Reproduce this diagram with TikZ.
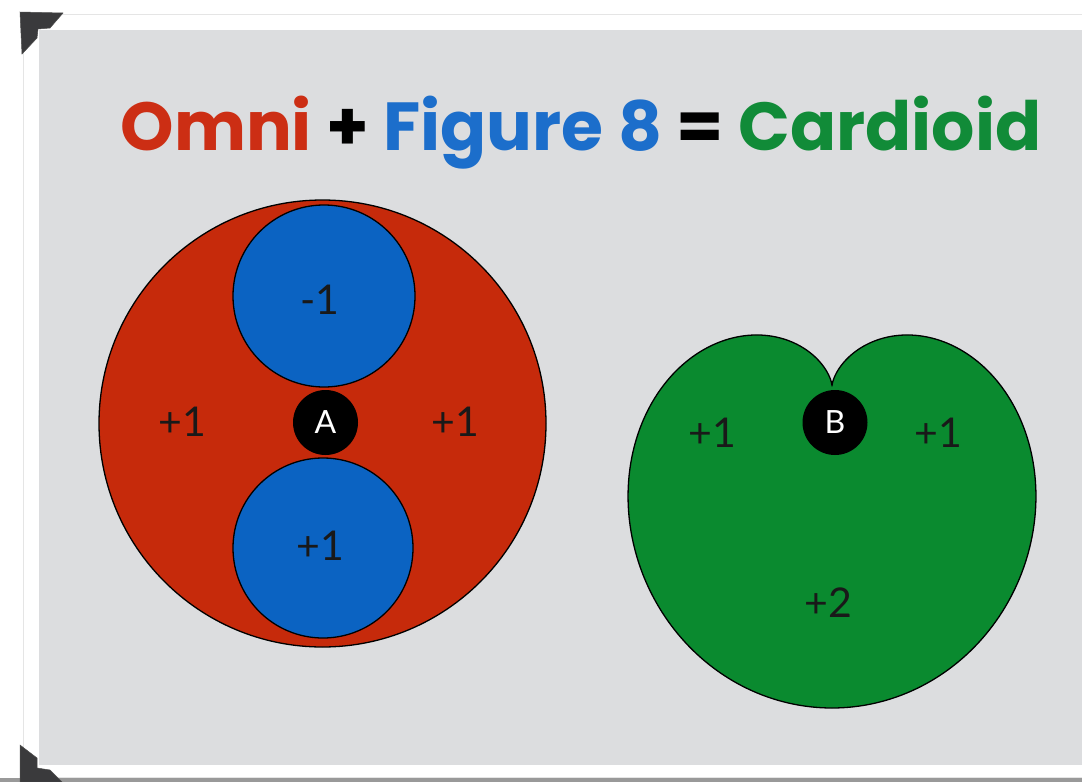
\documentclass[tikz,border=0pt]{standalone}
\usepackage{fontspec}
\setmainfont{Lato}
\newfontfamily\titlefont{Poppins}
\definecolor{panel}{HTML}{DCDDDF}
\definecolor{omnired}{HTML}{C62A0B}
\definecolor{figblue}{HTML}{0B63C2}
\definecolor{cardgreen}{HTML}{0A8A2F}
\definecolor{titlered}{HTML}{CC2E14}
\definecolor{titleblue}{HTML}{1C6ECB}
\definecolor{titlegreen}{HTML}{118B38}
\definecolor{cornergray}{HTML}{3A3A3C}
\tikzset{
  outline/.style={draw=black, line width=1.3pt},
  lbl/.style={font=\fontsize{41}{41}\selectfont, text=black!90, inner sep=0pt},
  pointdot/.style={circle, fill=black, minimum size=65pt, inner sep=0pt, text=white, font=\fontsize{32}{32}\selectfont},
  photocorner/.style={fill=cornergray, draw=black!70, line width=0.5pt}
}
\begin{document}
\begin{tikzpicture}[x=1pt,y=-1pt]
\useasboundingbox (0,0) rectangle (1082,782);
\fill[white] (0,0) rectangle (1082,782);
\fill[black!40] (0,778) rectangle (1082,782);
% photo frame
\draw[fill=white, draw=black!10, line width=1pt] (23,14) rectangle (1095,777);
\fill[panel] (39,30) rectangle (1082,765);
% photo corners
\path[photocorner] (20,12) -- (63,13) -- (50,28) -- (38,29) -- (37,38) -- (22,54) -- cycle;
\path[photocorner] (20,745) -- (37,758) -- (37,768) -- (50,770) -- (62,782) -- (20,782) -- cycle;
% title
\node[anchor=base, inner sep=0pt, font=\titlefont\fontsize{68}{68}\selectfont\bfseries] (title) at (581,150)
  {\textcolor{titlered}{Omni} + \textcolor{titleblue}{Figure 8} = \textcolor{titlegreen}{Cardioid}};
% omni + figure 8
\path[outline, fill=omnired] (322.5,423.5) circle[radius=223.5];
\path[outline, fill=figblue] (324,296) circle[radius=91];
\path[outline, fill=figblue] (323,548) circle[radius=90];
\node[pointdot] (A) at (325.5,422.5) {A};
\node[lbl] (l1) at (182,422) {+1};
\node[lbl] (r1) at (455,422) {+1};
\node[lbl] (t1) at (320,300) {-1};
\node[lbl] (b1) at (320,546) {+1};
% cardioid
\path[outline, fill=cardgreen, line join=round]
  plot[domain=0:360, samples=361, variable=\t]
  ({832+157*(1+cos(\t))*sin(\t)}, {386+161*(1+cos(\t))*cos(\t)-14*sin(\t)*sin(\t)}) -- cycle;
\node[pointdot] (B) at (835,422.5) {B};
\node[lbl] (cl) at (712,433) {+1};
\node[lbl] (cr) at (938,433) {+1};
\node[lbl] (cb) at (828,603) {+2};
\end{tikzpicture}
\end{document}
